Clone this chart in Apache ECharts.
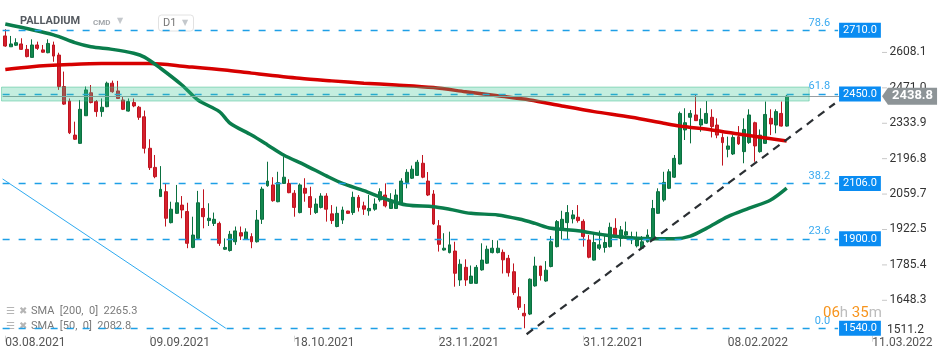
<!DOCTYPE html>
<html>
<head>
<meta charset="utf-8">
<script src="https://cdn.jsdelivr.net/npm/echarts@6/dist/echarts.min.js"></script>
<style>
html,body{margin:0;padding:0;background:#fff}
#c{width:950px;height:360px}
</style>
</head>
<body>
<div id="c"></div>
<script>
// ---- data ----
const tickLabels = ['03.08.2021','09.09.2021','18.10.2021','23.11.2021','31.12.2021','08.02.2022','11.03.2022'];
const tickEvery = 27;
const slotCount = 164;
const yTickValues = [1511.2,1648.3,1785.4,1922.5,2059.7,2196.8,2333.9,2471.0,2608.1];

const opens  = [2672,2630,2636,2641,2620,2589,2637,2618,2607,2637,2598,2476,2420,2288,2256,2363,2452,2418,2379,2398,
2489,2459,2424,2381,2414,2396,2359,2237,2163,2050,2069,1949,1985,2017,1992,1853,1888,2004,1957,1946,
1946,1846,1841,1875,1910,1884,1895,1875,1962,2092,2095,2030,2101,2101,2063,1988,2082,2050,1988,2008,
2052,1983,1934,1959,1994,1988,2047,2014,1995,2001,2037,2056,2004,2004,2024,2104,2121,2132,2179,2110,
2060,1937,1843,1833,1839,1727,1776,1714,1714,1766,1792,1833,1833,1834,1811,1759,1662,1598,1595,1704,
1781,1723,1779,1856,1921,1949,1964,1970,1954,1882,1804,1850,1853,1856,1927,1888,1901,1882,1859,1850,
1875,1882,1985,2037,2082,2125,2176,2308,2357,2366,2327,2334,2357,2327,2279,2233,2215,2282,2224,2259,
2336,2224,2256,2353,2327,2372,2323];
const closes = [2633,2641,2646,2620,2592,2637,2624,2609,2643,2594,2476,2408,2297,2272,2388,2463,2414,2379,2396,2489,
2456,2430,2388,2418,2401,2357,2237,2162,2127,2078,1966,2001,2026,1998,1869,1901,2026,1972,1966,1962,
1869,1853,1904,1917,1897,1913,1875,1959,2079,2110,2034,2104,2125,2065,2008,2095,2063,2008,2021,2052,
2001,1957,1985,1998,1985,2047,2008,2001,2004,2021,2069,2014,2030,2056,2110,2144,2156,2183,2125,2056,
1944,1865,1850,1863,1753,1788,1727,1742,1776,1804,1846,1850,1850,1805,1755,1678,1621,1588,1730,1781,
1744,1765,1875,1953,1962,1988,1979,1957,1895,1815,1872,1863,1872,1931,1895,1921,1914,1895,1882,1875,
1901,2004,2069,2105,2146,2198,2372,2336,2372,2344,2349,2372,2321,2288,2259,2246,2279,2254,2310,2366,
2246,2288,2368,2331,2379,2323,2438.8];
const lows   = [2630,2630,2633,2618,2589,2589,2618,2607,2605,2572,2463,2405,2292,2269,2254,2362,2411,2359,2359,2396,
2452,2428,2385,2379,2396,2347,2217,2153,2121,2050,1934,1946,1983,1966,1850,1850,1882,1927,1936,1936,
1859,1843,1837,1863,1882,1882,1850,1872,1944,2088,2030,2028,2099,2063,1972,1985,2030,1979,1983,2004,
1953,1944,1931,1944,1983,1979,1992,1979,1976,1995,2030,2008,2002,2002,2021,2082,2118,2130,2121,2052,
1940,1837,1841,1830,1701,1704,1704,1712,1712,1763,1789,1830,1830,1752,1740,1669,1611,1540,1591,1701,
1725,1720,1776,1853,1884,1884,1946,1949,1856,1811,1802,1843,1833,1853,1892,1856,1897,1866,1853,1846,
1872,1879,1983,2030,2079,2122,2174,2269,2256,2343,2301,2331,2279,2276,2170,2202,2211,2250,2179,2254,
2185,2220,2254,2288,2295,2321,2321];
const highs  = [2698,2672,2663,2663,2637,2659,2650,2637,2659,2650,2607,2534,2430,2340,2424,2476,2482,2424,2430,2495,
2499,2498,2439,2430,2430,2401,2383,2272,2211,2168,2101,2030,2095,2052,2026,1972,2072,2078,2024,1988,
1953,1888,1917,1934,1934,1927,1908,1998,2088,2185,2125,2146,2205,2117,2075,2101,2121,2088,2043,2063,
2063,2017,2011,2011,1995,2069,2056,2030,2056,2043,2082,2101,2063,2078,2121,2156,2170,2192,2211,2145,
2075,1959,1908,1914,1875,1807,1807,1783,1785,1869,1860,1882,1880,1845,1824,1791,1699,1634,1733,1817,
1781,1800,1897,1959,1995,2017,1998,2017,1962,1901,1908,1918,1901,1949,1966,1936,1953,1914,1914,1897,
1923,2037,2082,2146,2156,2211,2379,2392,2385,2443,2392,2420,2388,2353,2295,2282,2288,2323,2353,2388,
2340,2310,2418,2388,2388,2418,2443];

const sma200 = [[0,2542],[5,2553],[12,2561],[18,2565],[27,2565],[34,2553],[41,2540],[46,2528],[55,2508],[61,2498],
[67,2489],[73,2482],[80,2472],[86,2456],[92,2440],[98,2424],[104,2401],[110,2379],[117,2357],[123,2334],
[126,2323],[132,2308],[138,2289],[146,2265.3]];
const sma50 = [[0,2718],[9,2676],[13,2646],[16,2630],[20,2620],[24,2605],[26,2590],[29,2547],[33,2482],[36,2424],
[40,2379],[42,2334],[46,2288],[49,2250],[52,2211],[56,2172],[60,2130],[63,2101],[67,2073],[71,2041],
[75,2017],[80,2011],[83,2001],[87,1985],[92,1979],[96,1963],[99,1946],[102,1927],[107,1918],[112,1901],
[118,1889],[125,1887],[128,1897],[131,1927],[135,1972],[139,2005],[143,2037],[146,2082.8]];

const fibLevels = [1540, 1886.5, 2100.8, 2447.2, 2693.8];
const fibPct    = ['0.0','23.6','38.2','61.8','78.6'];
const fibTags   = ['1540.0','1900.0','2106.0','2450.0','2710.0'];
const fibSpan   = [-0.5, 155.6];
const zoneBand  = [2420, 2474];
const zoneSpan  = [-0.7, 150.2];
const lastPrice = 2438.8;
const priceLineEnd = 163.5;
const supportLine = [[97.4,1516.8],[155,2410.4]];
const oldTrendLine = [[-0.5,2118.2],[41.2,1540]];
const smaLegend = ['SMA  [200,  0]  2265.3','SMA  [50,  0]  2082.8'];

// ---- chart ----
const FONT = 'Roboto, "Noto Sans", sans-serif';
const chart = echarts.init(document.getElementById('c'), null, {renderer:'canvas'});

const candleData = opens.map((o,i)=>[o, closes[i], lows[i], highs[i]]);
const cats = Array.from({length: slotCount}, (_, i) => String(i));
const showTick = (idx) => idx % tickEvery === 0 && idx / tickEvery < tickLabels.length;

const fibLines = [];
fibLevels.forEach((v,k)=>{
  fibLines.push([
    {coord:[fibSpan[0], v], lineStyle:{color:'#1e9fe6', width:1.3, type:[7,9]},
     label:{show:true, position:'insideEndTop', formatter:fibPct[k], color:'#3aaaf0', fontSize:11, fontFamily:FONT, distance:[8,2]}},
    {coord:[fibSpan[1], v]}
  ]);
  fibLines.push([
    {coord:[fibSpan[0], v], lineStyle:{color:'rgba(0,0,0,0)', width:1},
     label:{show:true, position:'end', distance:1, formatter:fibTags[k], color:'#fff', fontSize:11, fontFamily:FONT,
            backgroundColor:'#0a8cf2', padding:[2,4,2,4], lineHeight:11}},
    {coord:[fibSpan[1], v]}
  ]);
});
const otherLines = [
  [{coord:supportLine[0], lineStyle:{color:'#2b2f33', width:2.2, type:[8,6]}}, {coord:supportLine[1]}],
  [{coord:oldTrendLine[0], lineStyle:{color:'#2eaaf0', width:1, type:'solid'}}, {coord:oldTrendLine[1]}],
  [{coord:[fibSpan[0], lastPrice], lineStyle:{color:'#979ea1', width:1, type:'solid'}}, {coord:[priceLineEnd, lastPrice]}]
];

const option = {
  animation:false,
  backgroundColor:'#fff',
  grid:{left:2.62, top:0, width:877.73, height:335.7, containLabel:false, outerBoundsMode:'none'},
  xAxis:[
    {type:'category', data:cats, boundaryGap:true, gridIndex:0,
     axisLine:{show:false},
     axisTick:{show:true, interval:(i)=>showTick(i), alignWithLabel:true, length:6, lineStyle:{color:'#d5d5d5'}},
     axisLabel:{show:true, interval:(i)=>showTick(i), formatter:(v,i)=>tickLabels[Math.round(i/tickEvery)] || '',
                align:'left', margin:1, color:'#555', fontSize:12, fontFamily:FONT},
     splitLine:{show:false}},
    {type:'value', min:-0.5, max:slotCount-0.5, show:false, gridIndex:0}
  ],
  yAxis:[
    {type:'value', position:'right', offset:1.65, min:yTickValues[0], max:2811.2,
     axisLine:{show:false}, splitLine:{show:false},
     axisTick:{show:false},
     axisLabel:{show:true, customValues:yTickValues, margin:0, align:'left',
                formatter:(v)=>{ const s = Number(v).toFixed(1);
                  return Math.abs(v - yTickValues[0]) < 0.01 ? '{g|}{g|}{low|'+s+'}' : '{t|}{g|}{v|'+s+'}'; },
                rich:{
                  t:{width:5, height:1, backgroundColor:'#c8c8c8'},
                  g:{width:2.5},
                  v:{color:'#333', fontSize:12, fontFamily:FONT},
                  low:{padding:[0,0,12,0], color:'#333', fontSize:12, fontFamily:FONT}},
                color:'#333', fontSize:12, fontFamily:FONT}}
  ],
  series:[
    {type:'candlestick', name:'PALLADIUM', xAxisIndex:0, yAxisIndex:0, data:candleData, barWidth:3.4, z:2, silent:true,
     itemStyle:{color:'#12874e', color0:'#d4202e', borderColor:'#0b7040', borderColor0:'#c0141f', borderWidth:1}},
    {type:'line', name:'SMA200', xAxisIndex:1, yAxisIndex:0, data:sma200, smooth:0.3, showSymbol:false, z:3, silent:true,
     lineStyle:{color:'#d60000', width:3.5}},
    {type:'line', name:'SMA50', xAxisIndex:1, yAxisIndex:0, data:sma50, smooth:0.3, showSymbol:false, z:3, silent:true,
     lineStyle:{color:'#0a7d4c', width:3.5}},
    {type:'custom', name:'zone', xAxisIndex:1, yAxisIndex:0, z:5, silent:true, clip:false,
     data:[[zoneSpan[0], zoneSpan[1], zoneBand[0], zoneBand[1]]],
     encode:{x:[0,1], y:[2,3]},
     renderItem:(params, api)=>{
       const p0 = api.coord([api.value(0), api.value(3)]);
       const p1 = api.coord([api.value(1), api.value(2)]);
       return {type:'rect', shape:{x:p0[0], y:p0[1], width:p1[0]-p0[0], height:p1[1]-p0[1]},
               style:{fill:'rgba(60,200,150,0.30)', stroke:'rgba(50,185,135,0.45)', lineWidth:1}};
     }},
    {type:'line', name:'annotations', xAxisIndex:1, yAxisIndex:0, data:[], z:6, silent:true,
     markLine:{symbol:'none', silent:true, animation:false, data: fibLines.concat(otherLines)},
     markPoint:{silent:true, animation:false, data:[{
       coord:[priceLineEnd, lastPrice], symbol:'path://M0,9L6,0L56,0L56,18L6,18Z', symbolSize:[55,17],
       symbolOffset:[29.2,0], itemStyle:{color:'#8d9497'},
       label:{show:true, position:'inside', offset:[3,0], formatter:lastPrice.toFixed(1), color:'#fff',
              fontWeight:'bold', fontSize:13, fontFamily:FONT}}]}}
  ],
  graphic:[
    {type:'text', left:20, top:16, style:{text:'PALLADIUM', fill:'#555a60', font:'bold 11px '+FONT}},
    {type:'text', left:93, top:19, style:{text:'CMD', fill:'#a3a7ab', font:'bold 8px '+FONT}},
    {type:'text', left:117, top:17, style:{text:'▼', fill:'#c4c8cc', font:'8px "DejaVu Sans"'}},
    {type:'rect', left:158, top:14.5, shape:{width:35, height:16, r:3}, style:{fill:'#fff', stroke:'#e2e2e2', lineWidth:1}},
    {type:'text', left:163, top:17.5, style:{text:'D1', fill:'#777', font:'11px '+FONT}},
    {type:'text', left:182, top:19, style:{text:'▼', fill:'#c4c8cc', font:'8px "DejaVu Sans"'}},
    {type:'text', left:6, top:306, style:{text:'☰', fill:'#b5b5b5', font:'10px "DejaVu Sans"'}},
    {type:'text', left:19, top:306, style:{text:'✖', fill:'#b5b5b5', font:'10px "DejaVu Sans"'}},
    {type:'text', left:31, top:306, style:{text:smaLegend[0], fill:'#7a7a7a', font:'11px '+FONT}},
    {type:'text', left:6, top:321, style:{text:'☰', fill:'#b5b5b5', font:'10px "DejaVu Sans"'}},
    {type:'text', left:19, top:321, style:{text:'✖', fill:'#b5b5b5', font:'10px "DejaVu Sans"'}},
    {type:'text', left:31, top:321, style:{text:smaLegend[1], fill:'#7a7a7a', font:'11px '+FONT}},
    {type:'text', left:823, top:306, z:100, style:{
      text:'{o|06}{g|h} {o|35}{g|m}', font:'15px '+FONT,
      rich:{o:{fill:'#f7941d', font:'15px '+FONT}, g:{fill:'#bdbdbd', font:'15px '+FONT}}}}
  ]
};
chart.setOption(option);
</script>
</body>
</html>
